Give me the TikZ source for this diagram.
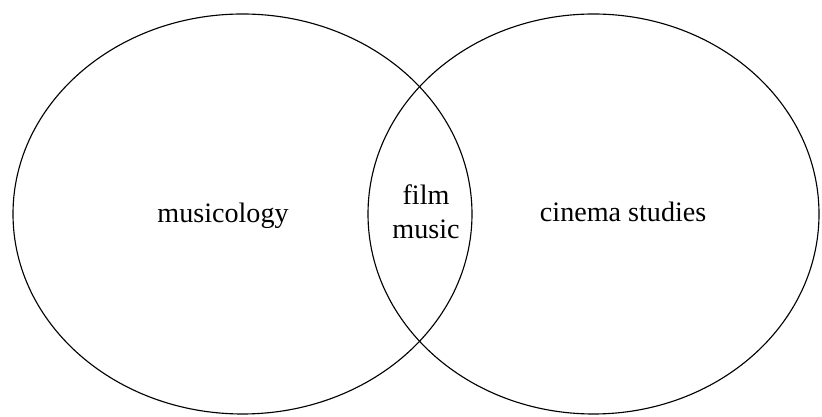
\documentclass[tikz,border=0pt]{standalone}
\usepackage{fontspec}
\setmainfont{Liberation Serif}
\usepackage{tikz}
\usetikzlibrary{positioning}

\begin{document}
\begin{tikzpicture}[scale=1]

		\useasboundingbox (0,0) rectangle (20.55,10.425);

		% Fields
		\draw[line width=0.8pt] (6.0625,5.075) ellipse (5.7375cm and 5cm);
		\draw[line width=0.8pt] (14.8375,5.075) ellipse (5.6375cm and 5cm);

		% Labels
		\node[anchor=base,font=\fontsize{20}{24}\selectfont] (musicology) at (5.575,4.85) {musicology};
		\node[anchor=base west,font=\fontsize{20}{24}\selectfont] (cinema) at (13.375,4.875) {cinema studies};

		% Overlap
		\node[anchor=base,font=\fontsize{20}{24}\selectfont] (film) at (10.65,5.3) {film};
		\node[anchor=base,font=\fontsize{20}{24}\selectfont] (music) at (10.65,4.45) {music};

	\end{tikzpicture}
\end{document}
